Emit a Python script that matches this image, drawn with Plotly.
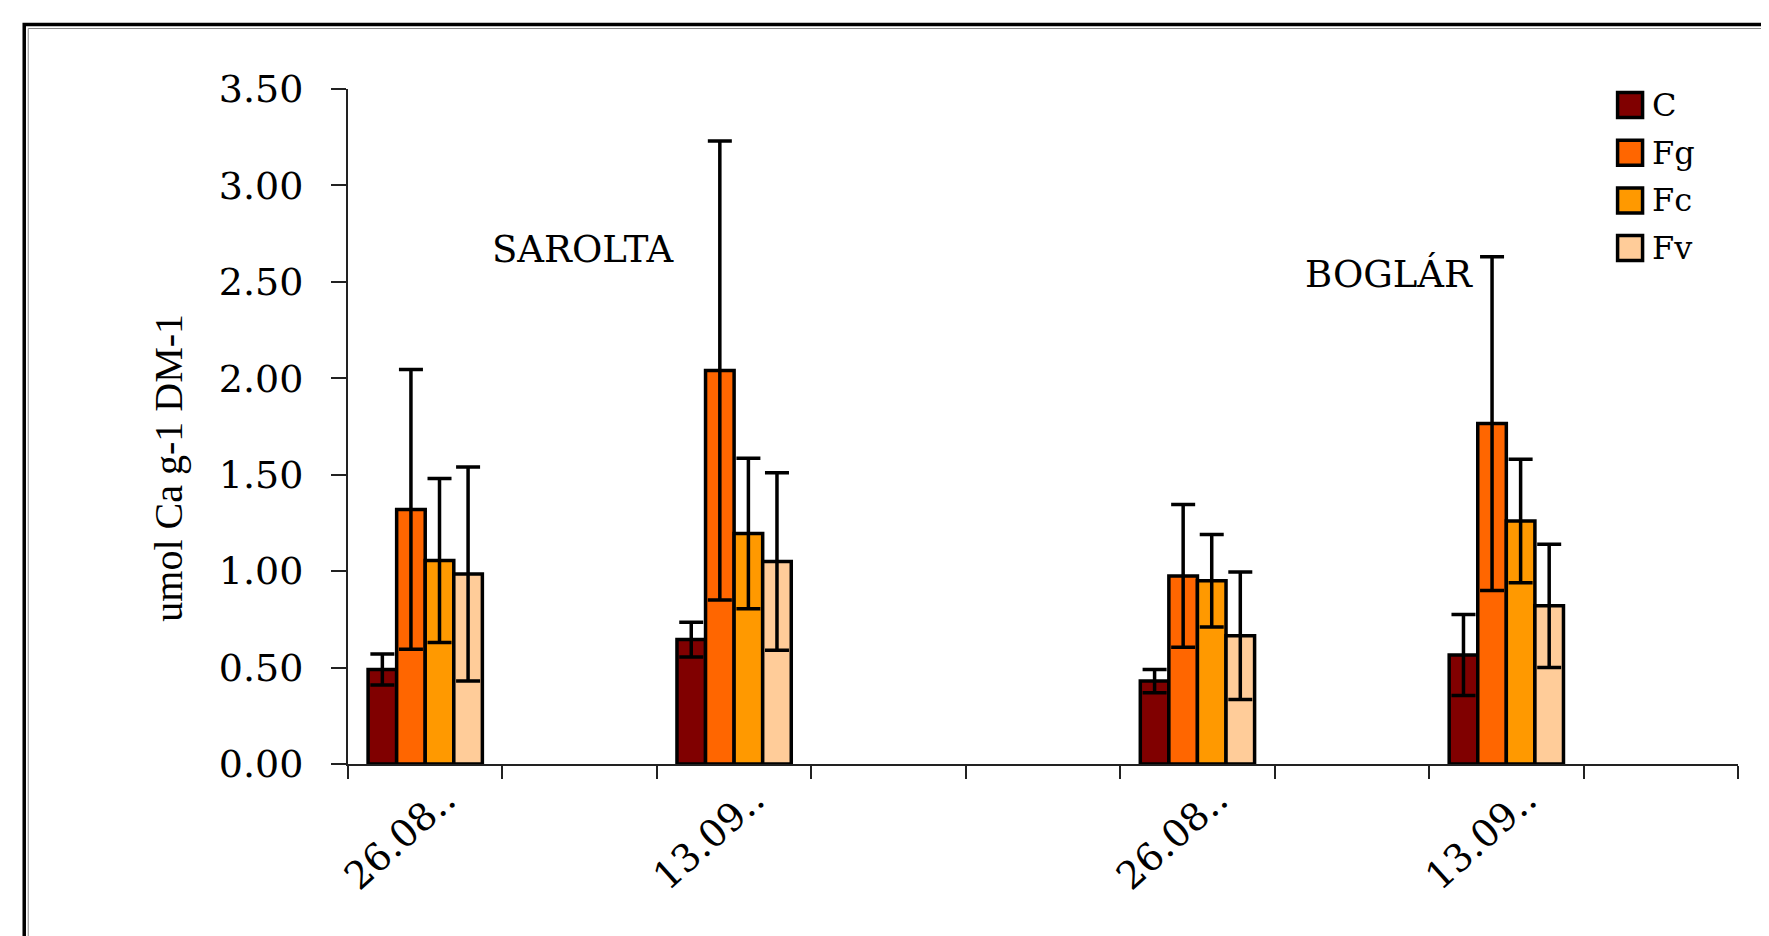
import plotly.graph_objects as go

# ---- data ----
categories = ["26.08.. S", "gap1", "13.09.. S", "gap2", "gap3", "26.08.. B", "gap4", "13.09.. B", "gap5"]
tick_labels = ["26.08..", "", "13.09..", "", "", "26.08..", "", "13.09..", ""]
sample_cats = ["26.08.. S", "13.09.. S", "26.08.. B", "13.09.. B"]

series_names = ["C", "Fg", "Fc", "Fv"]
C = [0.49, 0.645, 0.43, 0.565]
C_err = [0.08, 0.09, 0.06, 0.21]
Fg = [1.32, 2.04, 0.975, 1.765]
Fg_err = [0.725, 1.19, 0.37, 0.865]
Fc = [1.055, 1.195, 0.95, 1.26]
Fc_err = [0.425, 0.39, 0.24, 0.32]
Fv = [0.985, 1.05, 0.665, 0.82]
Fv_err = [0.555, 0.46, 0.33, 0.32]
colors = ["#800000", "#FF6600", "#FF9900", "#FFCC99"]

values = [C, Fg, Fc, Fv]
errors = [C_err, Fg_err, Fc_err, Fv_err]

OFF = 8  # default page body margin
W, H = 1769 - OFF, 936 - OFF
L, R, T, B = 347.5, 1738.5, 89, 764  # plot area in page pixels


def px(x):
    return (x - L) / (R - L)


def py(y):
    return (B - y) / (B - T)


fig = go.Figure()
for name, vals, errs, col in zip(series_names, values, errors, colors):
    fig.add_trace(go.Bar(
        x=sample_cats, y=vals, name=name,
        marker=dict(color=col, line=dict(color="black", width=3.5)),
        error_y=dict(type="data", array=errs, visible=True,
                     color="black", thickness=3.5, width=12),
        showlegend=False,
    ))

serif = "DejaVu Serif"

fig.update_layout(
    width=W, height=H,
    margin=dict(l=L - OFF, r=W - (R - OFF), t=T - OFF, b=H - (B - OFF)),
    paper_bgcolor="white", plot_bgcolor="white",
    barmode="group", bargap=0.26, bargroupgap=0.0,
    xaxis=dict(
        type="category", categoryorder="array", categoryarray=categories,
        tickmode="array", tickvals=categories, ticktext=tick_labels,
        tickson="boundaries", ticks="outside", ticklen=13, tickwidth=1.5,
        tickcolor="#222", showline=True, linecolor="#222", linewidth=2,
        tickangle=-42, ticklabelshift=20, ticklabelstandoff=-4,
        tickfont=dict(family=serif, size=38, color="black"),
        showgrid=False, zeroline=False, range=[-0.5, 8.5],
    ),
    yaxis=dict(
        range=[0, 3.5], tickmode="array",
        tickvals=[0, 0.5, 1.0, 1.5, 2.0, 2.5, 3.0, 3.5],
        tickformat=".2f", ticks="outside", ticklen=15, tickwidth=1.5,
        tickcolor="#222", showline=True, linecolor="#222", linewidth=2,
        tickfont=dict(family=serif, size=38, color="black"),
        ticklabelstandoff=20, showgrid=False, zeroline=False,
    ),
)

# y-axis title
fig.add_annotation(text="umol Ca g-1 DM-1", xref="paper", yref="paper",
                   x=px(167), y=py(468), xanchor="center", yanchor="middle",
                   textangle=-90, showarrow=False,
                   font=dict(family="Liberation Serif", size=40, color="black"))

# group labels
fig.add_annotation(text="SAROLTA", xref="paper", yref="paper",
                   x=px(583), y=py(250), xanchor="center", yanchor="middle",
                   showarrow=False, font=dict(family=serif, size=37, color="black"))
fig.add_annotation(text="BOGLÁR", xref="paper", yref="paper",
                   x=px(1389), y=py(274), xanchor="center", yanchor="middle",
                   showarrow=False, font=dict(family=serif, size=37, color="black"))

# legend (drawn from the series list)
for i, (name, col) in enumerate(zip(series_names, colors)):
    cy = 105 + i * 47.7
    fig.add_shape(type="rect", xref="paper", yref="paper",
                  x0=px(1618), x1=px(1643), y0=py(cy + 12.5), y1=py(cy - 12.5),
                  fillcolor=col, line=dict(color="black", width=3.5))
    fig.add_annotation(text=name, xref="paper", yref="paper",
                       x=px(1650), y=py(cy), xanchor="left", yanchor="middle",
                       showarrow=False,
                       font=dict(family=serif, size=32, color="black"))

# outer frame (double line)
fig.add_shape(type="rect", xref="paper", yref="paper",
              x0=px(23.5), x1=px(1800), y0=py(24.5), y1=py(1000),
              line=dict(color="black", width=3.5), fillcolor="rgba(0,0,0,0)")
fig.add_shape(type="rect", xref="paper", yref="paper",
              x0=px(27.5), x1=px(1800), y0=py(28.5), y1=py(1000),
              line=dict(color="#888", width=1), fillcolor="rgba(0,0,0,0)")

fig.write_html("out.html")
